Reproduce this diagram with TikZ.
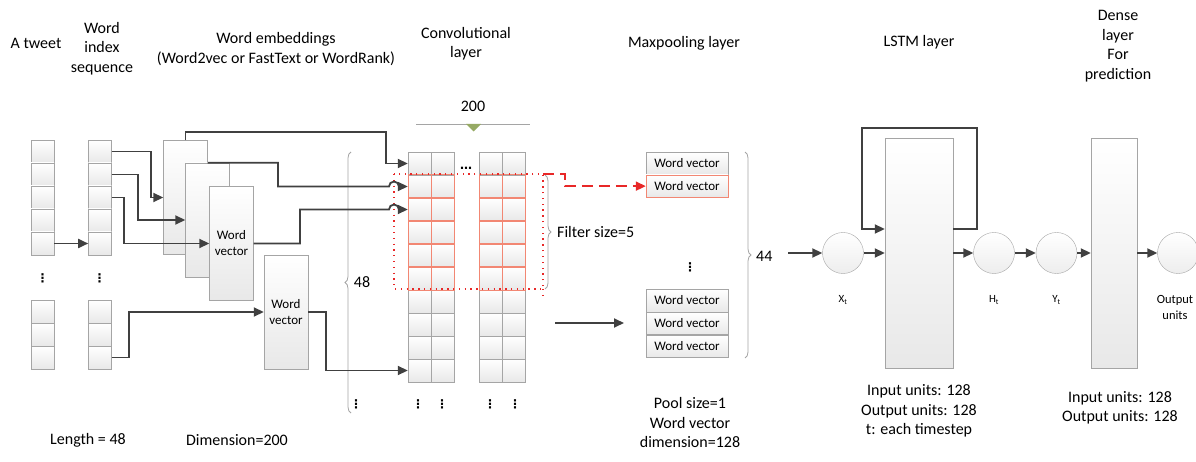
\documentclass[tikz,border=0pt]{standalone}
\usepackage{fontspec}
\setmainfont{Carlito}
\newfontfamily\symfont{DejaVu Sans}
\usetikzlibrary{positioning, arrows.meta, decorations.pathreplacing}
\definecolor{wiregray}{RGB}{64,64,64}
\definecolor{boxgray}{RGB}{165,165,165}
\definecolor{salmon}{RGB}{242,135,115}
\definecolor{sage}{RGB}{150,170,100}
\definecolor{dashred}{RGB}{232,40,40}
\tikzset{
  caption/.style={font=\fontsize{16pt}{19.5pt}\selectfont, align=center, inner sep=0pt},
  small/.style={font=\fontsize{13pt}{16pt}\selectfont, align=center, inner sep=0pt},
  tag/.style={font=\fontsize{11pt}{13pt}\selectfont, inner sep=0pt},
  dots/.style={font=\symfont\bfseries\fontsize{12pt}{12pt}\selectfont, inner sep=0pt},
  cell/.style={draw=boxgray, top color=white, bottom color=black!9, minimum size=23pt, inner sep=0pt},
  embox/.style={cell, minimum width=44pt, minimum height=114pt, small},
  mpbox/.style={cell, minimum width=82pt, minimum height=22.5pt, small},
  tallbox/.style={cell, minimum width=68pt, minimum height=230pt},
  neuron/.style={circle, draw=boxgray, top color=white, bottom color=black!7, minimum size=41pt, inner sep=0pt},
  wire/.style={draw=wiregray, line width=1.8pt, -{Triangle[length=10pt, width=9pt]}},
  redwire/.style={draw=dashred, line width=1.8pt, dash pattern=on 11pt off 6pt, -{Triangle[length=10pt, width=9pt]}},
  filterbox/.style={draw=dashred, line width=1.3pt, dash pattern=on 1.3pt off 4.5pt},
  brace/.style={decorate, decoration={brace, amplitude=6pt}, draw=boxgray, line width=0.8pt},
}
\begin{document}
\begin{tikzpicture}[x=1pt, y=-1pt]
  \useasboundingbox (0,0) rectangle (1196,462);

  \node[caption] (hTweet) at (36,43)    {A tweet};
  \node[caption] (hIndex) at (102,48.5) {Word\\index\\sequence};
  \node[caption] (hEmbed) at (276,49)   {Word embeddings\\(Word2vec or FastText or WordRank)};
  \node[caption] (hConv)  at (466,43.5) {Convolutional\\layer};
  \node[caption] (hPool)  at (684,43)   {Maxpooling layer};
  \node[caption] (hLstm)  at (919,42)   {LSTM layer};
  \node[caption] (hDense) at (1118,46)  {Dense\\layer\\For\\prediction};

  \foreach \i in {1,...,5}{
    \node[cell] (tw\i) at (42.5,{151.5+23*(\i-1)}) {};
    \node[cell, right=34pt of tw\i] (ix\i) {};
  }
  \foreach \i in {1,...,3}{
    \node[cell] (tb\i) at (42.5,{311.5+23*(\i-1)}) {};
    \node[cell, right=34pt of tb\i] (ib\i) {};
  }
  \node[dots] (twd) at (42.5,278) {⋮};
  \node[dots] (ixd) at (99.5,278) {⋮};

  \node[embox] (em1) at (185.5,197.5) {};
  \node[embox] (em2) at (207.5,220)   {};
  \node[embox] (em3) at (231.5,243.5) {Word\\vector};
  \node[embox] (em4) at (286,312)     {Word\\vector};

  \foreach \c/\x in {1/419.5,2/442.5,3/490.5,4/513.5}
    \foreach \r in {1,...,10}
      \node[cell] (c\c-\r) at (\x,{163.5+23*(\r-1)}) {};
  \foreach \c in {1,...,4}
    \foreach \r in {2,...,6}
      \draw[salmon, line width=0.6pt] (c\c-\r.north west) rectangle (c\c-\r.south east);
  \foreach \x in {356,418,442,490,515}
    \node[dots] (vd\x) at (\x,404) {⋮};
  \node[dots] (hd) at (466,170) {⋯};

  \node[caption] (dim) at (473,106) {200};
  \draw[boxgray, line width=0.8pt] (416,124) -- (530,124);
  \fill[sage] (466,124) -- (481,124) -- (473.5,131.5) -- cycle;

  \coordinate (fr) at (543,174);
  \draw[filterbox] (394,174) rectangle (fr |- 0,289);
  \draw[filterbox] (543,289) -- (543,298);

  \draw[brace] (351,413) -- (351,152);
  \node[caption] (n48) at (362,282) {48};
  \draw[brace] (545,175) -- (545,289);
  \node[caption, anchor=west] (fsize) at (557,232) {Filter size=5};

  \node[mpbox] (mp1) at (687,163.25) {Word vector};
  \node[mpbox, draw=salmon, below=0pt of mp1] (mp2) {Word vector};
  \node[mpbox] (mp3) at (687,300.5) {Word vector};
  \node[mpbox, below=0pt of mp3] (mp4) {Word vector};
  \node[mpbox, below=0pt of mp4] (mp5) {Word vector};
  \node[dots] (mpd) at (690,267) {⋮};

  \draw[brace] (745,152) -- (745,358);
  \node[caption, anchor=west] (n44) at (756,256) {44};

  \draw[wire] (tw5.east) -- (ix5.west);
  \draw[wire] (ix1.east) -- ++(39,0) |- (em1.west);
  \draw[wire] (ix2.east) -- ++(26,0) |- (em2.west);
  \draw[wire] (ix3.east) -- ++(12,0) |- (em3.west);
  \draw[wire] (ib3.east) -- ++(17,0) |- (em4.west);
  \draw[wire] (em1.north) |- (386,132) |- (c1-1.west);
  \draw[wire] (em1.east |- em2.north) -| (278,186.5) -- (389,186.5)
    arc[start angle=180, end angle=360, radius=5] -- (c1-2.west);
  \draw[wire] (em3.east) -| (300,209.5) -- (389,209.5)
    arc[start angle=180, end angle=360, radius=5] -- (c1-3.west);
  \draw[wire] (em4.east) -| (326,370.5) -- (c1-10.west);

  \draw[redwire] (fr) -- (565,174) |- (mp2.west);
  \coordinate (pa) at (555,323);
  \coordinate (pb) at (624,323);
  \draw[wire] (pa) -- (pb);

  \node[neuron]  (xt)    at (843,253)    {};
  \node[tallbox] (lstm)  at (919,253)    {};
  \node[neuron]  (ht)    at (994,253)    {};
  \node[neuron]  (yt)    at (1056.5,253) {};
  \node[tallbox, minimum width=46pt] (dense) at (1114,253) {};
  \node[neuron]  (out)   at (1178,253)   {};
  \node[tag] (xtl) at (843,300)    {X\textsubscript{t}};
  \node[tag] (htl) at (994,300)    {H\textsubscript{t}};
  \node[tag] (ytl) at (1056.5,300) {Y\textsubscript{t}};
  \node[small, font=\fontsize{12.5pt}{15.5pt}\selectfont] (outl) at (1175,307.5) {Output\\units};

  \coordinate (lin) at (788,253);
  \draw[wire] (lin) -- (xt.west);
  \draw[wire] (xt.east) -- (lstm.west);
  \draw[wire] ([yshift=24pt]lstm.east) -- ++(24,0) |- (862,128) |- ([yshift=24pt]lstm.west);
  \draw[wire] (lstm.east) -- (ht.west);
  \draw[wire] (ht.east) -- (yt.west);
  \draw[wire] (yt.east) -- (dense.west);
  \draw[wire] (dense.east) -- (out.west);

  \node[caption] (len)    at (88,440)   {Length = 48};
  \node[caption] (dimt)   at (237,440)  {Dimension=200};
  \node[caption] (pool)   at (690,423)  {Pool size=1\\Word vector\\dimension=128};
  \node[caption] (lstmt)  at (919,411)  {Input units: 128\\Output units: 128\\t: each timestep};
  \node[caption] (denset) at (1120,408) {Input units: 128\\Output units: 128};
\end{tikzpicture}
\end{document}
